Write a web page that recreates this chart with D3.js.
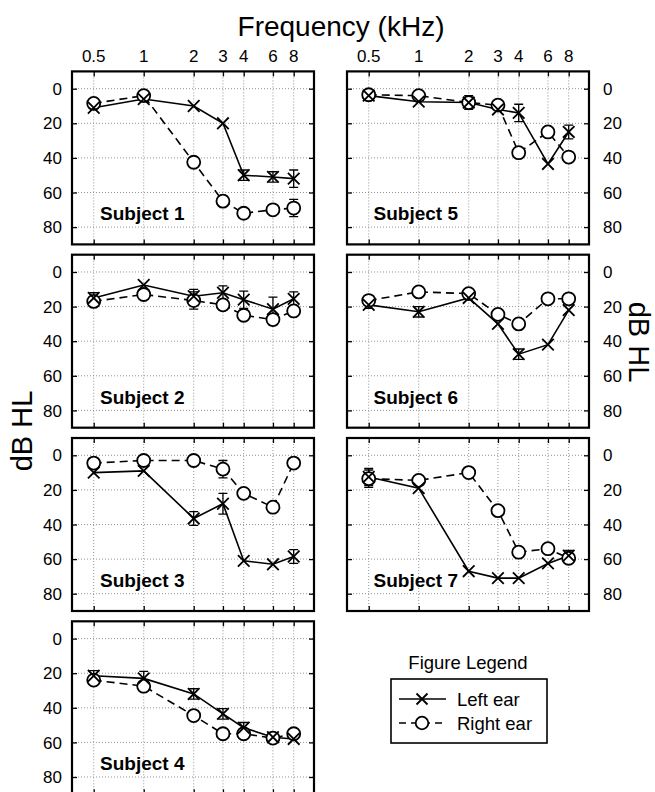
<!DOCTYPE html>
<html><head><meta charset="utf-8">
<script src="https://cdn.jsdelivr.net/npm/d3@7"></script>
<style>body{margin:0;background:#fff}svg{display:block;font-family:Arial,"Liberation Sans",sans-serif}</style>
</head><body><svg id="c" width="655" height="792"></svg>
<script>
const freqs = [0.5, 1, 2, 3, 4, 6, 8];
const freqLabels = ["0.5", "1", "2", "3", "4", "6", "8"];
const dbTicks = [0, 20, 40, 60, 80];
const subjects = ["Subject 1", "Subject 2", "Subject 3", "Subject 4", "Subject 5", "Subject 6", "Subject 7"];
const leftEar = [
  [11, 6, 10, 20, 50, 51, 52],
  [15, 7.5, 14, 12, 16, 21.5, 15.5],
  [10, 9, 36.5, 28, 61, 63, 58.5],
  [21.5, 23, 32, 43.5, 51.5, 57, 58],
  [4, 7.5, 8, 12, 14, 43.5, 25],
  [19, 23, 15, 30, 47.5, 42, 22],
  [12.5, 19, 67, 71, 71, 62.5, 58]
];
const rightEar = [
  [8.5, 4, 42.5, 65, 72, 70, 69],
  [17, 13, 16.5, 19, 25, 27.5, 22.5],
  [4.5, 3, 3, 8, 22, 30, 4.5],
  [24, 27.5, 44.5, 55, 55, 57.5, 55],
  [3.5, 4, 8, 9.5, 37, 25, 39.5],
  [16.5, 11.5, 12.5, 24.5, 30, 15.5, 15.5],
  [13.5, 14.5, 10, 32, 56, 54, 59.5]
];
const leftErr = [
  [0, 0, 0, 0, 3, 3, 5],
  [3, 0, 4, 4, 5, 7, 4],
  [0, 0, 4, 6, 0, 0, 4],
  [3, 4, 3, 3, 3, 0, 0],
  [0, 0, 3, 0, 5, 0, 4],
  [2, 3, 0, 0, 3, 0, 0],
  [5, 0, 0, 0, 0, 0, 3]
];
const rightErr = [
  [0, 0, 0, 3, 0, 0, 5],
  [0, 0, 5, 3, 0, 3, 0],
  [0, 0, 0, 5, 0, 0, 0],
  [0, 0, 0, 0, 0, 0, 0],
  [0, 0, 4, 0, 0, 0, 0],
  [0, 0, 0, 0, 0, 0, 0],
  [5, 0, 0, 0, 0, 0, 0]
];
// layout: subject index -> column,row
const panelCol = [0, 0, 0, 0, 1, 1, 1];
const panelRow = [0, 1, 2, 3, 0, 1, 2];

const svg = d3.select("#c");
const W = 242, H = 173;
const colX = [72, 347];
const rowY = r => 71.4 + r * 183.3;
const x = d3.scaleLog().domain([0.37, 10.6]).range([0, W]);
const y = d3.scaleLinear().domain([-10, 90]).range([0, H]);

svg.append("text").attr("x", 341).attr("y", 36).attr("text-anchor", "middle")
  .attr("font-size", 28).text("Frequency (kHz)");
svg.append("text").attr("transform", "translate(32,431) rotate(-90)").attr("text-anchor", "middle")
  .attr("font-size", 29).text("dB HL");
svg.append("text").attr("transform", "translate(629,342) rotate(90)").attr("text-anchor", "middle")
  .attr("font-size", 29).text("dB HL");

function xMarker(g, cx, cy, s) {
  g.append("path").attr("d", `M${cx - s},${cy - s}L${cx + s},${cy + s}M${cx - s},${cy + s}L${cx + s},${cy - s}`)
    .attr("stroke", "#000").attr("stroke-width", 1.8).attr("fill", "none");
}
function oMarker(g, cx, cy, r) {
  g.append("circle").attr("cx", cx).attr("cy", cy).attr("r", r)
    .attr("fill", "#fff").attr("stroke", "#000").attr("stroke-width", 1.8);
}

subjects.forEach((name, i) => {
  const col = panelCol[i], row = panelRow[i];
  const g = svg.append("g").attr("transform", `translate(${colX[col]},${rowY(row)})`);
  // grid
  g.selectAll(".gx").data(freqs).join("line")
    .attr("x1", d => x(d)).attr("x2", d => x(d)).attr("y1", 0).attr("y2", H)
    .attr("stroke", "#888").attr("stroke-width", 0.9).attr("stroke-dasharray", "1,2");
  g.selectAll(".gy").data(dbTicks).join("line")
    .attr("x1", 0).attr("x2", W).attr("y1", d => y(d)).attr("y2", d => y(d))
    .attr("stroke", "#888").attr("stroke-width", 0.9).attr("stroke-dasharray", "1,2");
  // inward ticks via axes
  const ax = [
    d3.axisTop(x).tickValues(freqs).tickSizeInner(-5).tickSizeOuter(0).tickFormat(""),
    d3.axisBottom(x).tickValues(freqs).tickSizeInner(-5).tickSizeOuter(0).tickFormat(""),
    d3.axisLeft(y).tickValues(dbTicks).tickSizeInner(-5).tickSizeOuter(0).tickFormat(""),
    d3.axisRight(y).tickValues(dbTicks).tickSizeInner(-5).tickSizeOuter(0).tickFormat("")
  ];
  const pos = [[0, 0], [0, H], [0, 0], [W, 0]];
  ax.forEach((a, k) => {
    const ag = g.append("g").attr("transform", `translate(${pos[k][0]},${pos[k][1]})`).call(a);
    ag.select(".domain").remove();
    ag.selectAll("line").attr("stroke", "#000").attr("stroke-width", 1.3);
  });
  // tick labels
  if (row === 0) {
    g.selectAll(".fl").data(freqs).join("text")
      .attr("x", d => x(d)).attr("y", -9).attr("text-anchor", "middle")
      .attr("font-size", 17).text((d, k) => freqLabels[k]);
  }
  if (col === 0) {
    g.selectAll(".yl").data(dbTicks).join("text")
      .attr("x", -10).attr("y", d => y(d)).attr("dy", "0.36em").attr("text-anchor", "end")
      .attr("font-size", 17).text(d => d);
  } else {
    g.selectAll(".yl").data(dbTicks).join("text")
      .attr("x", W + 14).attr("y", d => y(d)).attr("dy", "0.36em").attr("text-anchor", "start")
      .attr("font-size", 17).text(d => d);
  }
  // subject label
  g.append("text").attr("x", col === 0 ? 28 : 26.5).attr("y", 149).attr("font-size", 19)
    .attr("font-weight", "bold").text(name);

  const line = d3.line().x((d, k) => x(freqs[k])).y(d => y(d));
  // error bars
  [[leftEar[i], leftErr[i]], [rightEar[i], rightErr[i]]].forEach(([vals, errs]) => {
    vals.forEach((v, k) => {
      const e = errs[k];
      if (!e) return;
      const cx = x(freqs[k]);
      g.append("path").attr("d", `M${cx},${y(v - e)}L${cx},${y(v + e)}M${cx - 4.5},${y(v - e)}L${cx + 4.5},${y(v - e)}M${cx - 4.5},${y(v + e)}L${cx + 4.5},${y(v + e)}`)
        .attr("stroke", "#000").attr("stroke-width", 1.3).attr("fill", "none");
    });
  });
  g.append("path").datum(rightEar[i]).attr("d", line).attr("fill", "none")
    .attr("stroke", "#000").attr("stroke-width", 1.6).attr("stroke-dasharray", "8,5");
  g.append("path").datum(leftEar[i]).attr("d", line).attr("fill", "none")
    .attr("stroke", "#000").attr("stroke-width", 1.6);
  rightEar[i].forEach((v, k) => oMarker(g, x(freqs[k]), y(v), 6.5));
  leftEar[i].forEach((v, k) => xMarker(g, x(freqs[k]), y(v), 5.8));
  // frame
  g.append("rect").attr("width", W).attr("height", H).attr("fill", "none")
    .attr("stroke", "#000").attr("stroke-width", 2.2);
});

// legend
const lg = svg.append("g");
lg.append("text").attr("x", 468).attr("y", 669).attr("text-anchor", "middle").attr("font-size", 18.5).text("Figure Legend");
lg.append("rect").attr("x", 391).attr("y", 679).attr("width", 156).attr("height", 64)
  .attr("fill", "#fff").attr("stroke", "#000").attr("stroke-width", 1.6);
lg.append("line").attr("x1", 399).attr("x2", 446).attr("y1", 699).attr("y2", 699).attr("stroke", "#000").attr("stroke-width", 1.5);
xMarker(lg, 422, 699, 5.5);
lg.append("line").attr("x1", 399).attr("x2", 446).attr("y1", 723).attr("y2", 723).attr("stroke", "#000").attr("stroke-width", 1.5).attr("stroke-dasharray", "7,5");
oMarker(lg, 422, 723, 6.3);
lg.append("text").attr("x", 457).attr("y", 699).attr("dy", "0.36em").attr("font-size", 18.5).text("Left ear");
lg.append("text").attr("x", 457).attr("y", 723).attr("dy", "0.36em").attr("font-size", 18.5).text("Right ear");
</script></body></html>
